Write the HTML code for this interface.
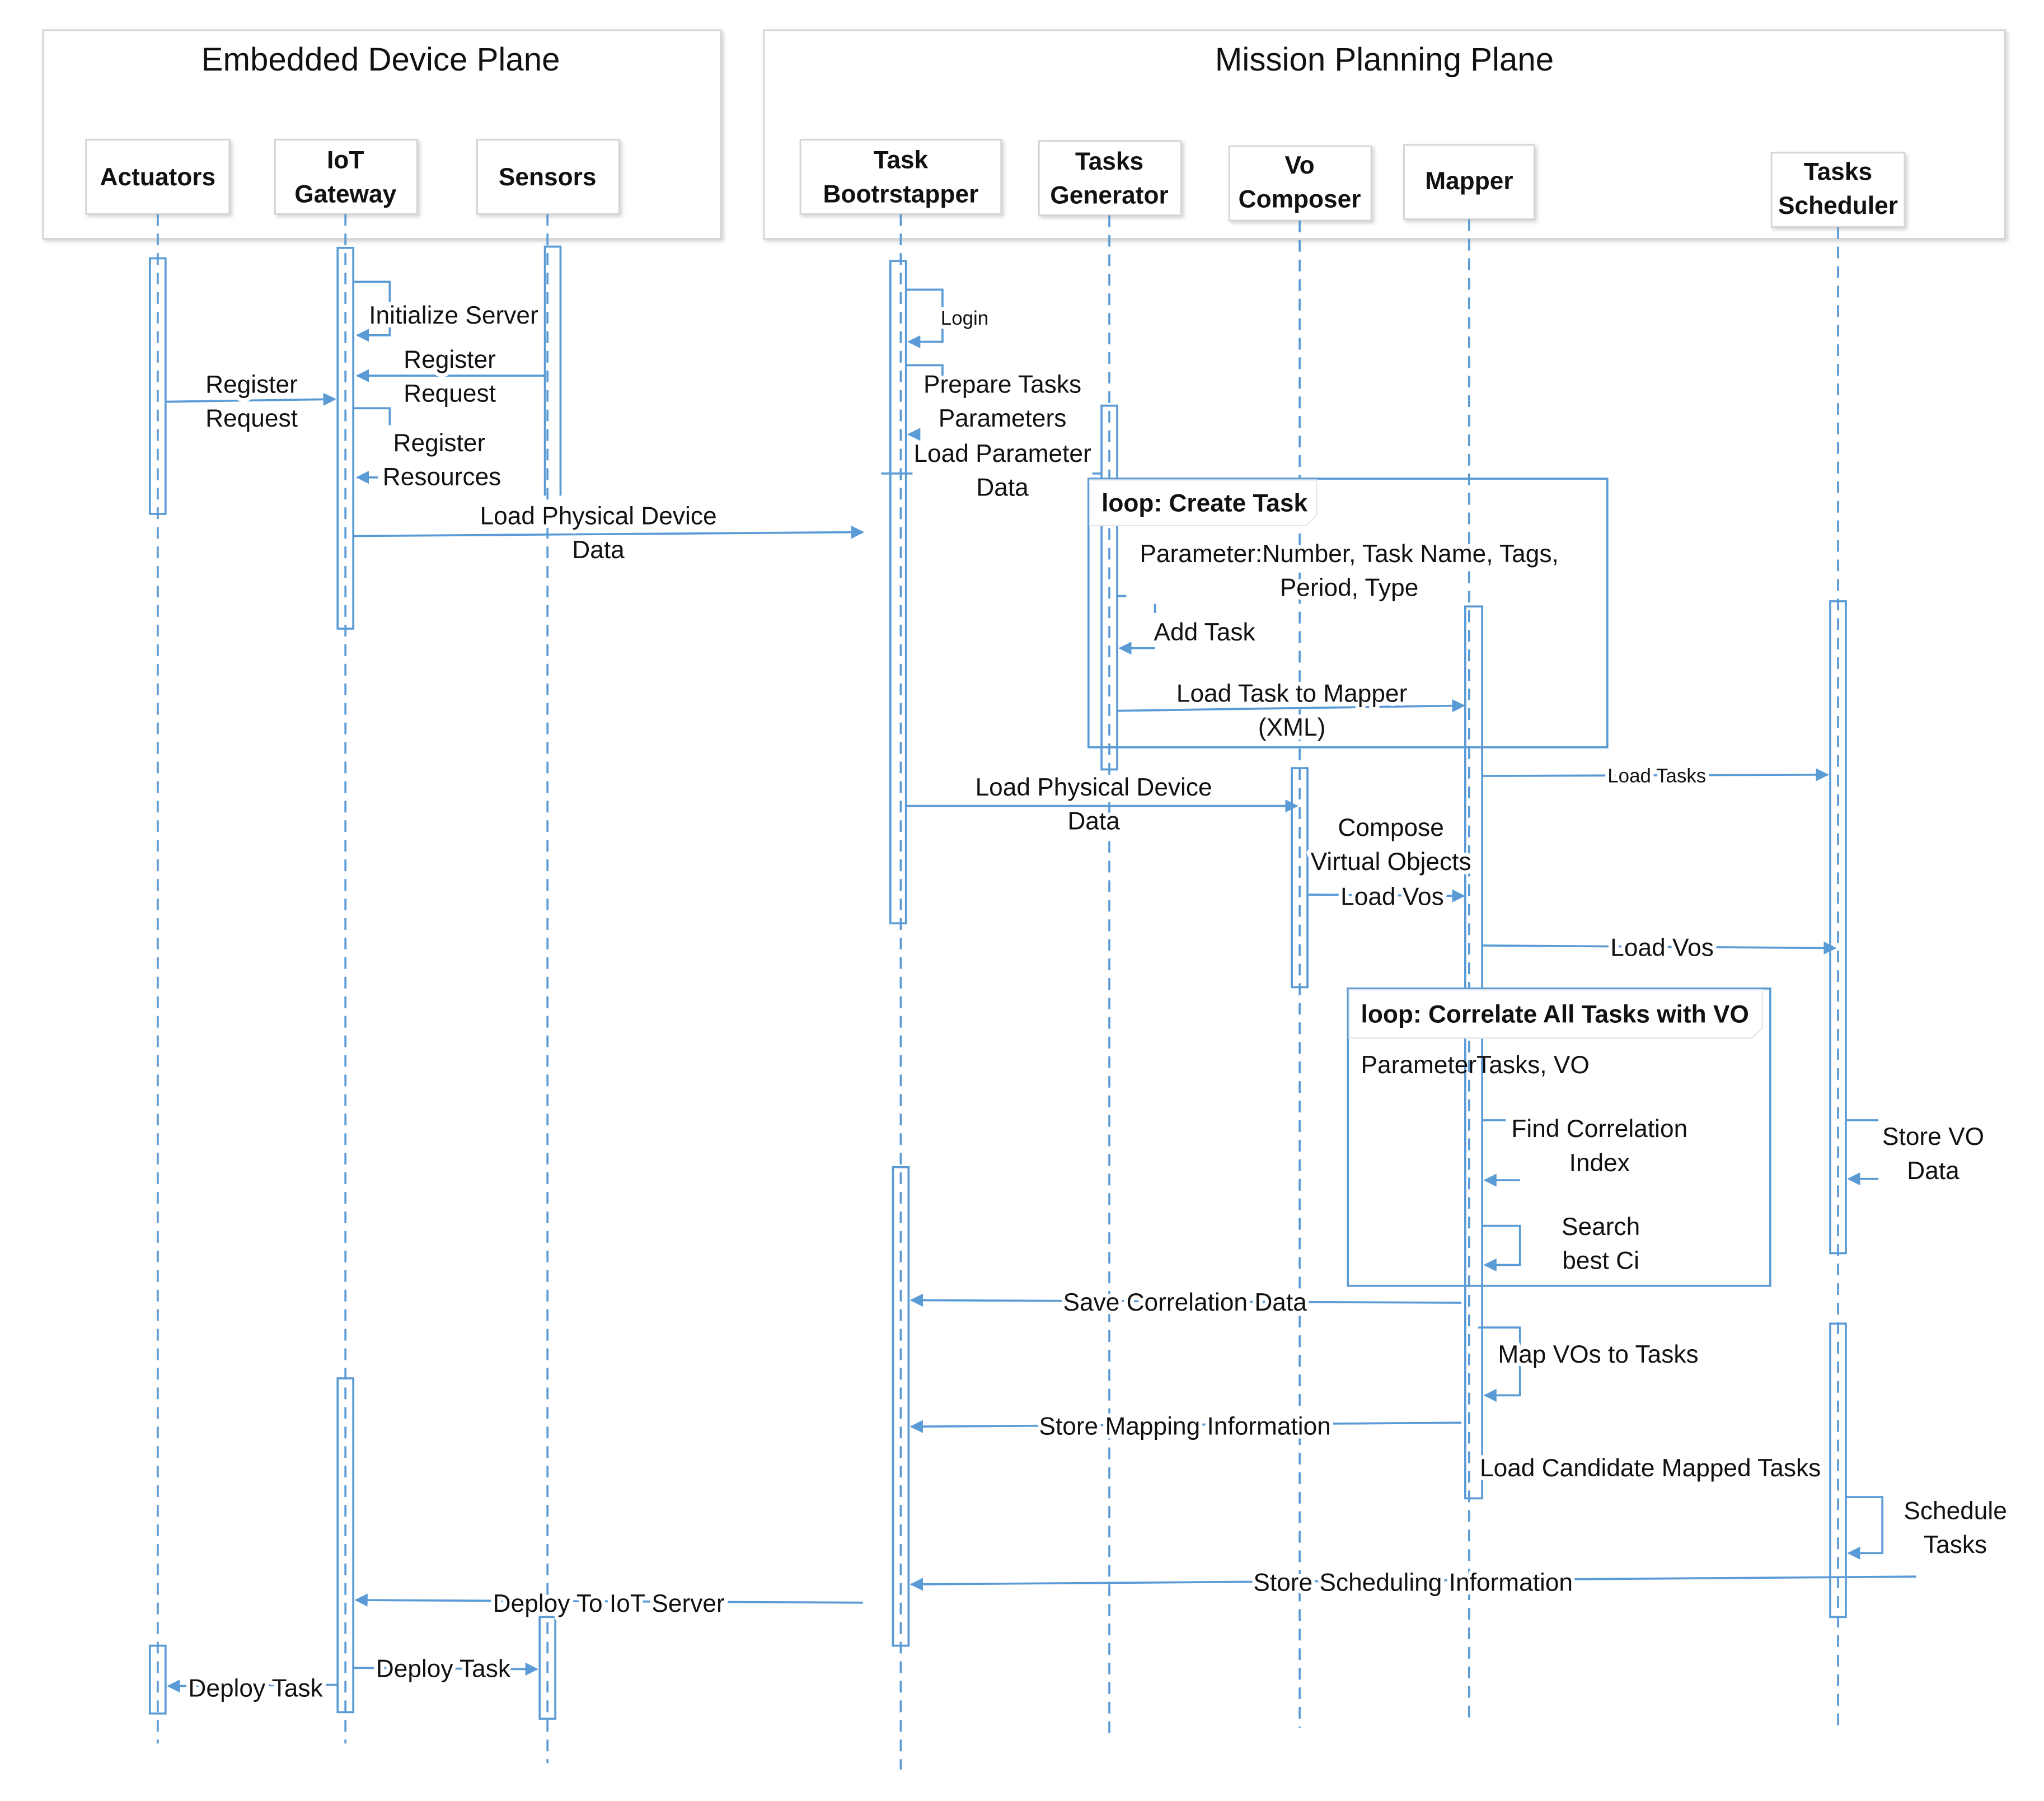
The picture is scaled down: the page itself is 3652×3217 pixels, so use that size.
<!DOCTYPE html>
<html><head><meta charset="utf-8"><style>
html,body{margin:0;padding:0;background:#fff;}
svg{display:block;}
text{font-family:"Liberation Sans Narrow","Liberation Sans",sans-serif;fill:#111;}
.l{font-size:19px;text-anchor:middle;paint-order:stroke;stroke:#fff;stroke-width:6px;stroke-linejoin:round;}
.b{font-weight:bold;font-size:19px;text-anchor:middle;}
.t{font-size:25px;text-anchor:middle;}
.ln{stroke:#5b9bd5;stroke-width:1.6;fill:none;}
.ll{stroke:#5b9bd5;stroke-width:1.6;fill:none;stroke-dasharray:9,6;}
.pb{fill:#fff;stroke:#d4d4d4;stroke-width:1.2;}
</style></head><body>
<svg width="3652" height="3217" viewBox="0 0 1568 1381" xmlns="http://www.w3.org/2000/svg">
<defs>
<marker id="a" markerWidth="10" markerHeight="10" refX="9" refY="5" orient="auto" markerUnits="userSpaceOnUse"><path d="M0,0 L10,5 L0,10 z" fill="#5b9bd5"/></marker>
<filter id="sh" x="-5%" y="-5%" width="110%" height="115%"><feDropShadow dx="1.5" dy="1.5" stdDeviation="1.5" flood-color="#000" flood-opacity="0.18"/></filter>
</defs>
<rect x="0" y="0" width="1568" height="1381" fill="#fff"/>
<rect class="pb" x="33" y="23" width="520" height="160" filter="url(#sh)"/>
<rect class="pb" x="586" y="23" width="952" height="160" filter="url(#sh)"/>
<text class="t" x="292" y="54">Embedded Device Plane</text>
<text class="t" x="1062" y="54">Mission Planning Plane</text>
<g filter="url(#sh)">
<rect class="pb" x="66" y="107" width="110" height="57"/>
<rect class="pb" x="211" y="107" width="109" height="57"/>
<rect class="pb" x="366" y="107" width="109" height="57"/>
<rect class="pb" x="614" y="107" width="154" height="57"/>
<rect class="pb" x="797" y="108" width="109" height="57"/>
<rect class="pb" x="943" y="112" width="109" height="57"/>
<rect class="pb" x="1077" y="111" width="100" height="57"/>
<rect class="pb" x="1359" y="117" width="102" height="57"/>
</g>
<text class="b" x="121" y="142">Actuators</text>
<text class="b" x="265" y="129">IoT</text><text class="b" x="265" y="155">Gateway</text>
<text class="b" x="420" y="142">Sensors</text>
<text class="b" x="691" y="129">Task</text><text class="b" x="691" y="155">Bootrstapper</text>
<text class="b" x="851" y="130">Tasks</text><text class="b" x="851" y="156">Generator</text>
<text class="b" x="997" y="133">Vo</text><text class="b" x="997" y="159">Composer</text>
<text class="b" x="1127" y="145">Mapper</text>
<text class="b" x="1410" y="138">Tasks</text><text class="b" x="1410" y="164">Scheduler</text>
<line class="ll" x1="121" y1="164" x2="121" y2="1337"/>
<line class="ll" x1="265" y1="164" x2="265" y2="1337"/>
<line class="ll" x1="420" y1="164" x2="420" y2="1352"/>
<line class="ll" x1="691" y1="164" x2="691" y2="1357"/>
<line class="ll" x1="851" y1="165" x2="851" y2="1330"/>
<line class="ll" x1="997" y1="169" x2="997" y2="1325"/>
<line class="ll" x1="1127" y1="168" x2="1127" y2="1322"/>
<line class="ll" x1="1410" y1="174" x2="1410" y2="1328"/>
<g fill="none" stroke="#5b9bd5" stroke-width="1.6">
<rect x="115" y="198" width="12" height="196"/>
<rect x="115" y="1262" width="12" height="52"/>
<rect x="259" y="190" width="12" height="292"/>
<rect x="259" y="1057" width="12" height="256"/>
<path d="M418,380 V189 H430 V380"/>
<rect x="414" y="1240" width="12" height="78"/>
<rect x="683" y="200" width="12" height="508"/>
<rect x="685" y="895" width="12" height="367"/>
<rect x="845" y="311" width="12" height="279"/>
<rect x="991" y="589" width="12" height="168"/>
<rect x="1124" y="465" width="13" height="684"/>
<rect x="1404" y="461" width="12" height="500"/>
<rect x="1404" y="1015" width="12" height="225"/>
</g>
<rect x="835" y="367" width="398" height="206" fill="none" stroke="#5b9bd5" stroke-width="1.6"/>
<path d="M836,368 H1010 V395 L1002,403 H836 z" fill="#fff" stroke="#e3e6ee" stroke-width="1"/>
<text x="845" y="392" style="font-size:19px;font-weight:bold">loop: Create Task</text>
<rect x="1034" y="758" width="324" height="228" fill="none" stroke="#5b9bd5" stroke-width="1.6"/>
<path d="M1035,759 H1352 V788 L1344,796 H1035 z" fill="#fff" stroke="#e3e6ee" stroke-width="1"/>
<text x="1044" y="784" style="font-size:19px;font-weight:bold">loop: Correlate All Tasks with VO</text>
<path class="ln" d="M271,216 H299 V257 H274" marker-end="url(#a)"/>
<text class="l" x="348" y="248">Initialize Server</text>
<path class="ln" d="M418,288 H274" marker-end="url(#a)"/>
<text class="l" x="345" y="282">Register</text><text class="l" x="345" y="308">Request</text>
<path class="ln" d="M127,308 L257,306" marker-end="url(#a)"/>
<text class="l" x="193" y="301">Register</text><text class="l" x="193" y="327">Request</text>
<path class="ln" d="M271,313 H299 V326 M290,366 H274" marker-end="url(#a)"/>
<text class="l" x="337" y="346">Register</text><text class="l" x="339" y="372">Resources</text>
<path class="ln" d="M271,411 L662,408" marker-end="url(#a)"/>
<text class="l" x="459" y="402">Load Physical Device</text><text class="l" x="459" y="428">Data</text>
<path class="ln" d="M695,222 H723 V262 H697" marker-end="url(#a)"/>
<text class="l" x="740" y="249" style="font-size:15px">Login</text>
<path class="ln" d="M695,280 H723 V290 M706,333 H697" marker-end="url(#a)"/>
<text class="l" x="769" y="301">Prepare Tasks</text><text class="l" x="769" y="327">Parameters</text>
<path class="ln" d="M676,363 H700 M838,363 H845"/>
<text class="l" x="769" y="354">Load Parameter</text><text class="l" x="769" y="380">Data</text>
<text class="l" x="1035" y="431">Parameter:Number, Task Name, Tags,</text>
<text class="l" x="1035" y="457">Period, Type</text>
<path class="ln" d="M857,457 H864 M886,463 V470 M886,497 H859" marker-end="url(#a)"/>
<text class="l" x="924" y="491">Add Task</text>
<path class="ln" d="M857,545 L1123,541" marker-end="url(#a)"/>
<text class="l" x="991" y="538">Load Task to Mapper</text><text class="l" x="991" y="564">(XML)</text>
<path class="ln" d="M695,618 H995" marker-end="url(#a)"/>
<text class="l" x="839" y="610">Load Physical Device</text><text class="l" x="839" y="636">Data</text>
<path class="ln" d="M1137,595 L1402,594" marker-end="url(#a)"/>
<text class="l" x="1271" y="600" style="font-size:15px">Load Tasks</text>
<text class="l" x="1067" y="641">Compose</text><text class="l" x="1067" y="667">Virtual Objects</text>
<path class="ln" d="M1003,686 L1123,687" marker-end="url(#a)"/>
<text class="l" x="1068" y="694">Load Vos</text>
<path class="ln" d="M1137,725 L1408,727" marker-end="url(#a)"/>
<text class="l" x="1275" y="733">Load Vos</text>
<text x="1044" y="823" style="font-size:19px">ParameterTasks, VO</text>
<path class="ln" d="M1137,859 H1155 M1166,905 H1139" marker-end="url(#a)"/>
<text class="l" x="1227" y="872">Find Correlation</text><text class="l" x="1227" y="898">Index</text>
<path class="ln" d="M1137,940 H1166 V970 H1139" marker-end="url(#a)"/>
<text class="l" x="1228" y="947">Search</text><text class="l" x="1228" y="973">best Ci</text>
<path class="ln" d="M1416,859 H1441 M1441,904 H1418" marker-end="url(#a)"/>
<text class="l" x="1483" y="878">Store VO</text><text class="l" x="1483" y="904">Data</text>
<path class="ln" d="M1121,999 L699,997" marker-end="url(#a)"/>
<text class="l" x="909" y="1005">Save Correlation Data</text>
<path class="ln" d="M1134,1018 H1166 V1070 H1139" marker-end="url(#a)"/>
<text class="l" x="1226" y="1045">Map VOs to Tasks</text>
<path class="ln" d="M1121,1091 L699,1094" marker-end="url(#a)"/>
<text class="l" x="909" y="1100">Store Mapping Information</text>
<text class="l" x="1266" y="1132">Load Candidate Mapped Tasks</text>
<path class="ln" d="M1416,1148 H1444 V1191 H1418" marker-end="url(#a)"/>
<text class="l" x="1500" y="1165">Schedule</text><text class="l" x="1500" y="1191">Tasks</text>
<path class="ln" d="M1470,1209 L699,1215" marker-end="url(#a)"/>
<text class="l" x="1084" y="1220">Store Scheduling Information</text>
<path class="ln" d="M662,1229 L273,1227" marker-end="url(#a)"/>
<text class="l" x="467" y="1236">Deploy To IoT Server</text>
<path class="ln" d="M271,1279 L412,1280" marker-end="url(#a)"/>
<text class="l" x="340" y="1286">Deploy Task</text>
<path class="ln" d="M259,1292 L129,1293" marker-end="url(#a)"/>
<text class="l" x="196" y="1301">Deploy Task</text>
</svg>
</body></html>
